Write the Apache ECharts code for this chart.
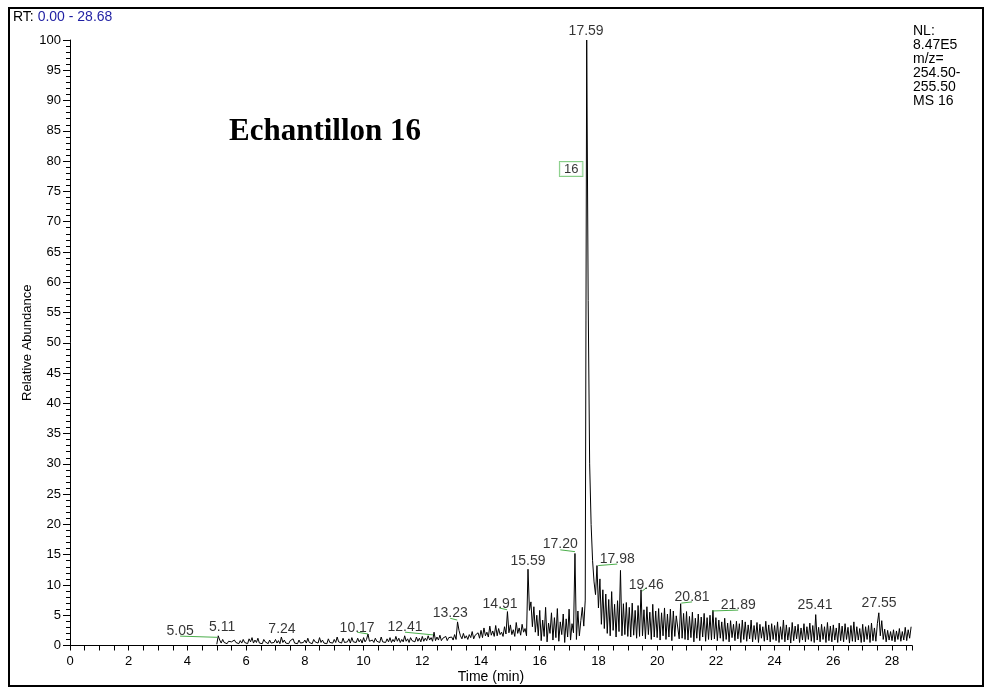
<!DOCTYPE html>
<html>
<head>
<meta charset="utf-8">
<script src="https://cdn.jsdelivr.net/npm/echarts@6/dist/echarts.min.js"></script>
<style>
html,body{margin:0;padding:0;background:#fff;}
#chart{width:985px;height:688px;}
</style>
</head>
<body>
<div id="chart"></div>
<script>
// scan grid (retention time, min)
const scanStart = 5.00;
const scanStep = 0.05;
// relative abundance (%), one row per minute of retention time
const abundance = [
  // 5
  0.2,1.6,0.9,0.4,1.0,0.5,0.8,0.3,0.7,0.4,0.6,0.3,0.9,0.5,0.7,0.3,0.8,0.4,1.0,0.5,
  // 6
  0.8,0.3,1.1,0.6,1.3,0.4,0.9,0.5,1.2,0.4,0.7,0.3,1.0,0.6,0.8,0.3,0.9,0.4,0.7,0.5,
  // 7
  1.0,0.4,0.8,0.3,1.4,0.5,0.9,0.4,0.7,0.3,0.8,0.5,1.1,0.4,0.6,0.3,0.9,0.4,0.7,0.5,
  // 8
  0.9,0.4,1.2,0.5,0.8,0.3,1.0,0.6,0.7,0.4,1.3,0.5,0.9,0.4,0.7,0.3,1.1,0.5,0.8,0.4,
  // 9
  1.0,0.5,1.4,0.6,0.9,0.4,1.2,0.5,0.8,0.6,1.1,0.4,1.3,0.6,0.9,0.5,1.2,0.6,1.0,0.4,
  // 10
  1.3,0.6,1.0,1.9,0.7,0.6,0.9,0.5,1.2,0.7,1.0,0.5,1.4,0.6,0.9,0.5,1.1,0.6,1.3,0.5,
  // 11
  1.0,0.6,1.5,0.7,1.2,0.5,1.0,0.6,1.6,0.7,1.1,0.5,1.3,0.8,1.0,0.6,1.4,0.7,1.2,0.6,
  // 12
  1.5,0.7,1.2,0.8,1.6,0.9,1.3,0.7,2.2,0.8,1.4,0.9,1.7,0.8,1.2,0.9,1.5,0.8,1.3,1.0,
  // 13
  1.4,0.9,1.8,1.0,3.9,2.5,1.6,1.1,2.0,1.2,1.6,1.0,1.8,1.3,2.3,1.1,1.7,1.4,2.1,1.2,
  // 14
  2.5,1.3,2.9,1.6,2.2,1.4,3.2,1.7,2.4,1.5,3.3,1.6,2.8,1.8,2.2,1.5,3.1,1.9,5.6,2.1,
  // 15
  3.4,1.8,2.6,1.5,3.8,2.0,2.9,1.7,3.5,2.2,2.8,1.6,12.6,5.8,7.2,3.1,6.4,2.2,5.0,1.6,
  // 16
  5.8,0.8,4.2,1.5,6.3,0.6,3.7,2.0,5.4,0.9,4.6,1.3,6.1,0.7,3.9,1.8,5.2,0.5,4.4,1.4,
  // 17
  6.0,0.9,3.6,2.1,15.2,1.0,5.7,1.6,4.1,6.3,3.2,7.5,100,57,30,20,14,10.5,8.4,13.2,
  // 18
  6.2,11.0,3.5,9.2,2.8,8.5,2.0,7.6,1.6,8.9,2.5,6.8,1.4,7.4,2.3,12.4,1.6,6.9,1.8,7.1,
  // 19
  1.5,6.3,1.4,7.0,1.7,5.8,1.2,6.6,1.5,9.2,1.6,5.9,1.1,6.4,1.8,5.5,1.0,6.8,1.4,5.7,
  // 20
  1.3,6.1,0.9,5.4,1.6,6.2,1.0,5.2,1.4,6.0,0.8,5.7,1.5,4.9,5.1,1.1,6.9,1.2,5.3,1.0,
  // 21
  5.6,0.9,4.8,1.3,5.5,0.6,4.5,1.2,5.2,0.8,4.7,1.4,5.3,0.7,4.6,1.0,5.0,0.9,5.8,1.1,
  // 22
  4.6,0.8,4.2,1.2,3.9,0.7,4.5,1.0,3.7,0.6,4.1,1.3,3.5,0.8,4.0,1.1,3.6,0.5,4.2,1.0,
  // 23
  3.9,0.7,3.4,1.1,4.2,0.6,3.3,1.0,3.8,0.5,3.5,1.2,3.1,0.7,4.0,0.9,3.4,0.6,3.6,1.0,
  // 24
  3.3,0.8,3.9,0.5,3.1,1.0,4.2,0.6,3.4,0.9,3.0,0.4,3.8,0.8,3.2,1.1,3.5,0.5,2.9,0.9,
  // 25
  3.6,0.6,3.1,1.0,3.7,0.7,3.3,0.5,5.1,0.9,3.0,0.6,3.5,1.0,3.1,0.5,3.8,0.8,3.2,0.6,
  // 26
  3.4,0.9,2.9,0.5,3.7,0.8,3.2,0.6,3.6,1.0,3.0,0.4,3.3,0.7,3.9,0.6,3.1,0.9,2.8,0.5,
  // 27
  3.5,0.6,3.1,1.0,3.3,0.5,3.7,0.8,2.9,0.7,3.6,5.4,1.6,4.1,1.0,2.7,0.6,2.5,0.9,2.3,
  // 28
  0.8,2.6,0.6,2.4,1.0,2.8,0.7,2.3,0.9,3.0,0.8,2.6,1.2,3.1
];

// peak labels: text, label centre (time, %)
const peakText  = ['5.05','5.11','7.24','10.17','12.41','13.23','14.91','15.59','17.20','17.59','17.98','19.46','20.81','21.89','25.41','27.55'];
const peakLabX  = [3.75, 5.18, 7.22, 9.78, 11.41, 12.95, 14.65, 15.60, 16.70, 17.58, 18.64, 19.63, 21.19, 22.76, 25.38, 27.56];
const peakLabY  = [2.3, 3.05, 2.7, 2.9, 3.05, 5.4, 6.85, 14.0, 16.8, 101.4, 14.3, 9.9, 8.0, 6.6, 6.6, 7.0];

// green leader lines: [labelX, labelY, peakX, peakY]
const leaderLines = [
  [3.75, 1.55, 5.01, 1.35],
  [9.78, 2.2, 10.15, 1.9],
  [11.41, 2.2, 12.37, 1.75],
  [12.95, 4.5, 13.19, 4.2],
  [14.62, 6.2, 14.89, 5.9],
  [16.70, 15.8, 17.20, 15.5],
  [17.99, 13.2, 18.64, 13.45],
  [19.49, 9.0, 19.63, 9.5],
  [20.82, 7.0, 21.19, 7.2],
  [21.87, 5.7, 22.76, 5.85]
];

// component box
const compText = '16';
const compPos = [17.07, 78.7];

const xMin = 0, xMax = 28.68, yMin = 0, yMax = 100;

const FONT = 'Arial, "Liberation Sans", sans-serif';

const traceData = abundance.map((v, i) => [+(scanStart + i * scanStep).toFixed(3), v]);
const labelData = peakText.map((t, i) => ({ value: [peakLabX[i], peakLabY[i]], label: { formatter: t } }));

const chart = echarts.init(document.getElementById('chart'), null, { renderer: 'canvas' });
chart.setOption({
  animation: false,
  backgroundColor: '#fff',
  grid: { left: 70, right: 73, top: 40, bottom: 42.5, containLabel: false, outerBoundsMode: 'none' },
  xAxis: {
    type: 'value', min: xMin, max: xMax, interval: 0.5,
    name: 'Time (min)', nameLocation: 'middle', nameGap: 25, nameMoveOverlap: false,
    nameTextStyle: { color: '#000', fontSize: 14, fontFamily: FONT },
    axisLine: { show: true, lineStyle: { color: '#000', width: 1 } },
    axisTick: { show: true, length: 5, lineStyle: { color: '#000' } },
    axisLabel: {
      color: '#000', fontSize: 13, fontFamily: FONT, margin: 9,
      formatter: v => (Math.abs(v / 2 - Math.round(v / 2)) < 1e-6 ? String(Math.round(v)) : '')
    },
    splitLine: { show: false }
  },
  yAxis: {
    type: 'value', min: yMin, max: yMax, interval: 5,
    name: 'Relative Abundance', nameLocation: 'middle', nameGap: 36, nameMoveOverlap: false,
    nameTextStyle: { color: '#000', fontSize: 13, fontFamily: FONT },
    axisLine: { show: true, lineStyle: { color: '#000', width: 1 } },
    axisTick: { show: true, length: 7, lineStyle: { color: '#000' } },
    minorTick: { show: true, splitNumber: 5, length: 4, lineStyle: { color: '#000' } },
    axisLabel: { color: '#000', fontSize: 13, fontFamily: FONT, margin: 9 },
    splitLine: { show: false }
  },
  series: [
    {
      type: 'line', data: traceData, symbol: 'none', showSymbol: false,
      lineStyle: { color: '#000', width: 1 }, silent: true, z: 2
    },
    {
      type: 'lines', coordinateSystem: 'cartesian2d', silent: true, z: 3,
      lineStyle: { color: '#2ca02c', width: 1, opacity: 0.85 },
      data: leaderLines.map(l => ({ coords: [[l[0], l[1]], [l[2], l[3]]] }))
    },
    {
      type: 'scatter', data: labelData, symbolSize: 0, clip: false, silent: true, z: 4,
      label: { show: true, position: 'inside', color: '#000', fontSize: 14, fontFamily: FONT }
    },
    {
      type: 'scatter', data: [compPos], symbolSize: 0, clip: false, silent: true, z: 4,
      label: {
        show: true, position: 'inside', formatter: compText, color: '#000', fontSize: 13, fontFamily: FONT,
        backgroundColor: '#fff', borderColor: '#6cc36c', borderWidth: 1, padding: [1, 4, 0, 4]
      }
    }
  ],
  graphic: [
    { type: 'rect', shape: { x: 9, y: 8, width: 974, height: 678 }, style: { fill: 'none', stroke: '#000', lineWidth: 2 }, z: 10 },
    { type: 'text', x: 13, y: 10, style: {
        text: '{a|RT: }{b|0.00 - 28.68}',
        rich: { a: { fill: '#000', fontSize: 14, fontFamily: FONT }, b: { fill: '#1f1fa3', fontSize: 14, fontFamily: FONT } }
      } },
    { type: 'text', x: 913, y: 24, style: {
        text: 'NL:\n8.47E5\nm/z=\n254.50-\n255.50\nMS 16',
        fill: '#000', fontSize: 14, fontFamily: FONT, lineHeight: 14
      } },
    { type: 'text', x: 229, y: 116, style: {
        text: 'Echantillon 16', fill: '#000', fontSize: 31, fontWeight: 'bold',
        fontFamily: '"Times New Roman", "Liberation Serif", serif'
      } }
  ]
});
</script>
</body>
</html>
